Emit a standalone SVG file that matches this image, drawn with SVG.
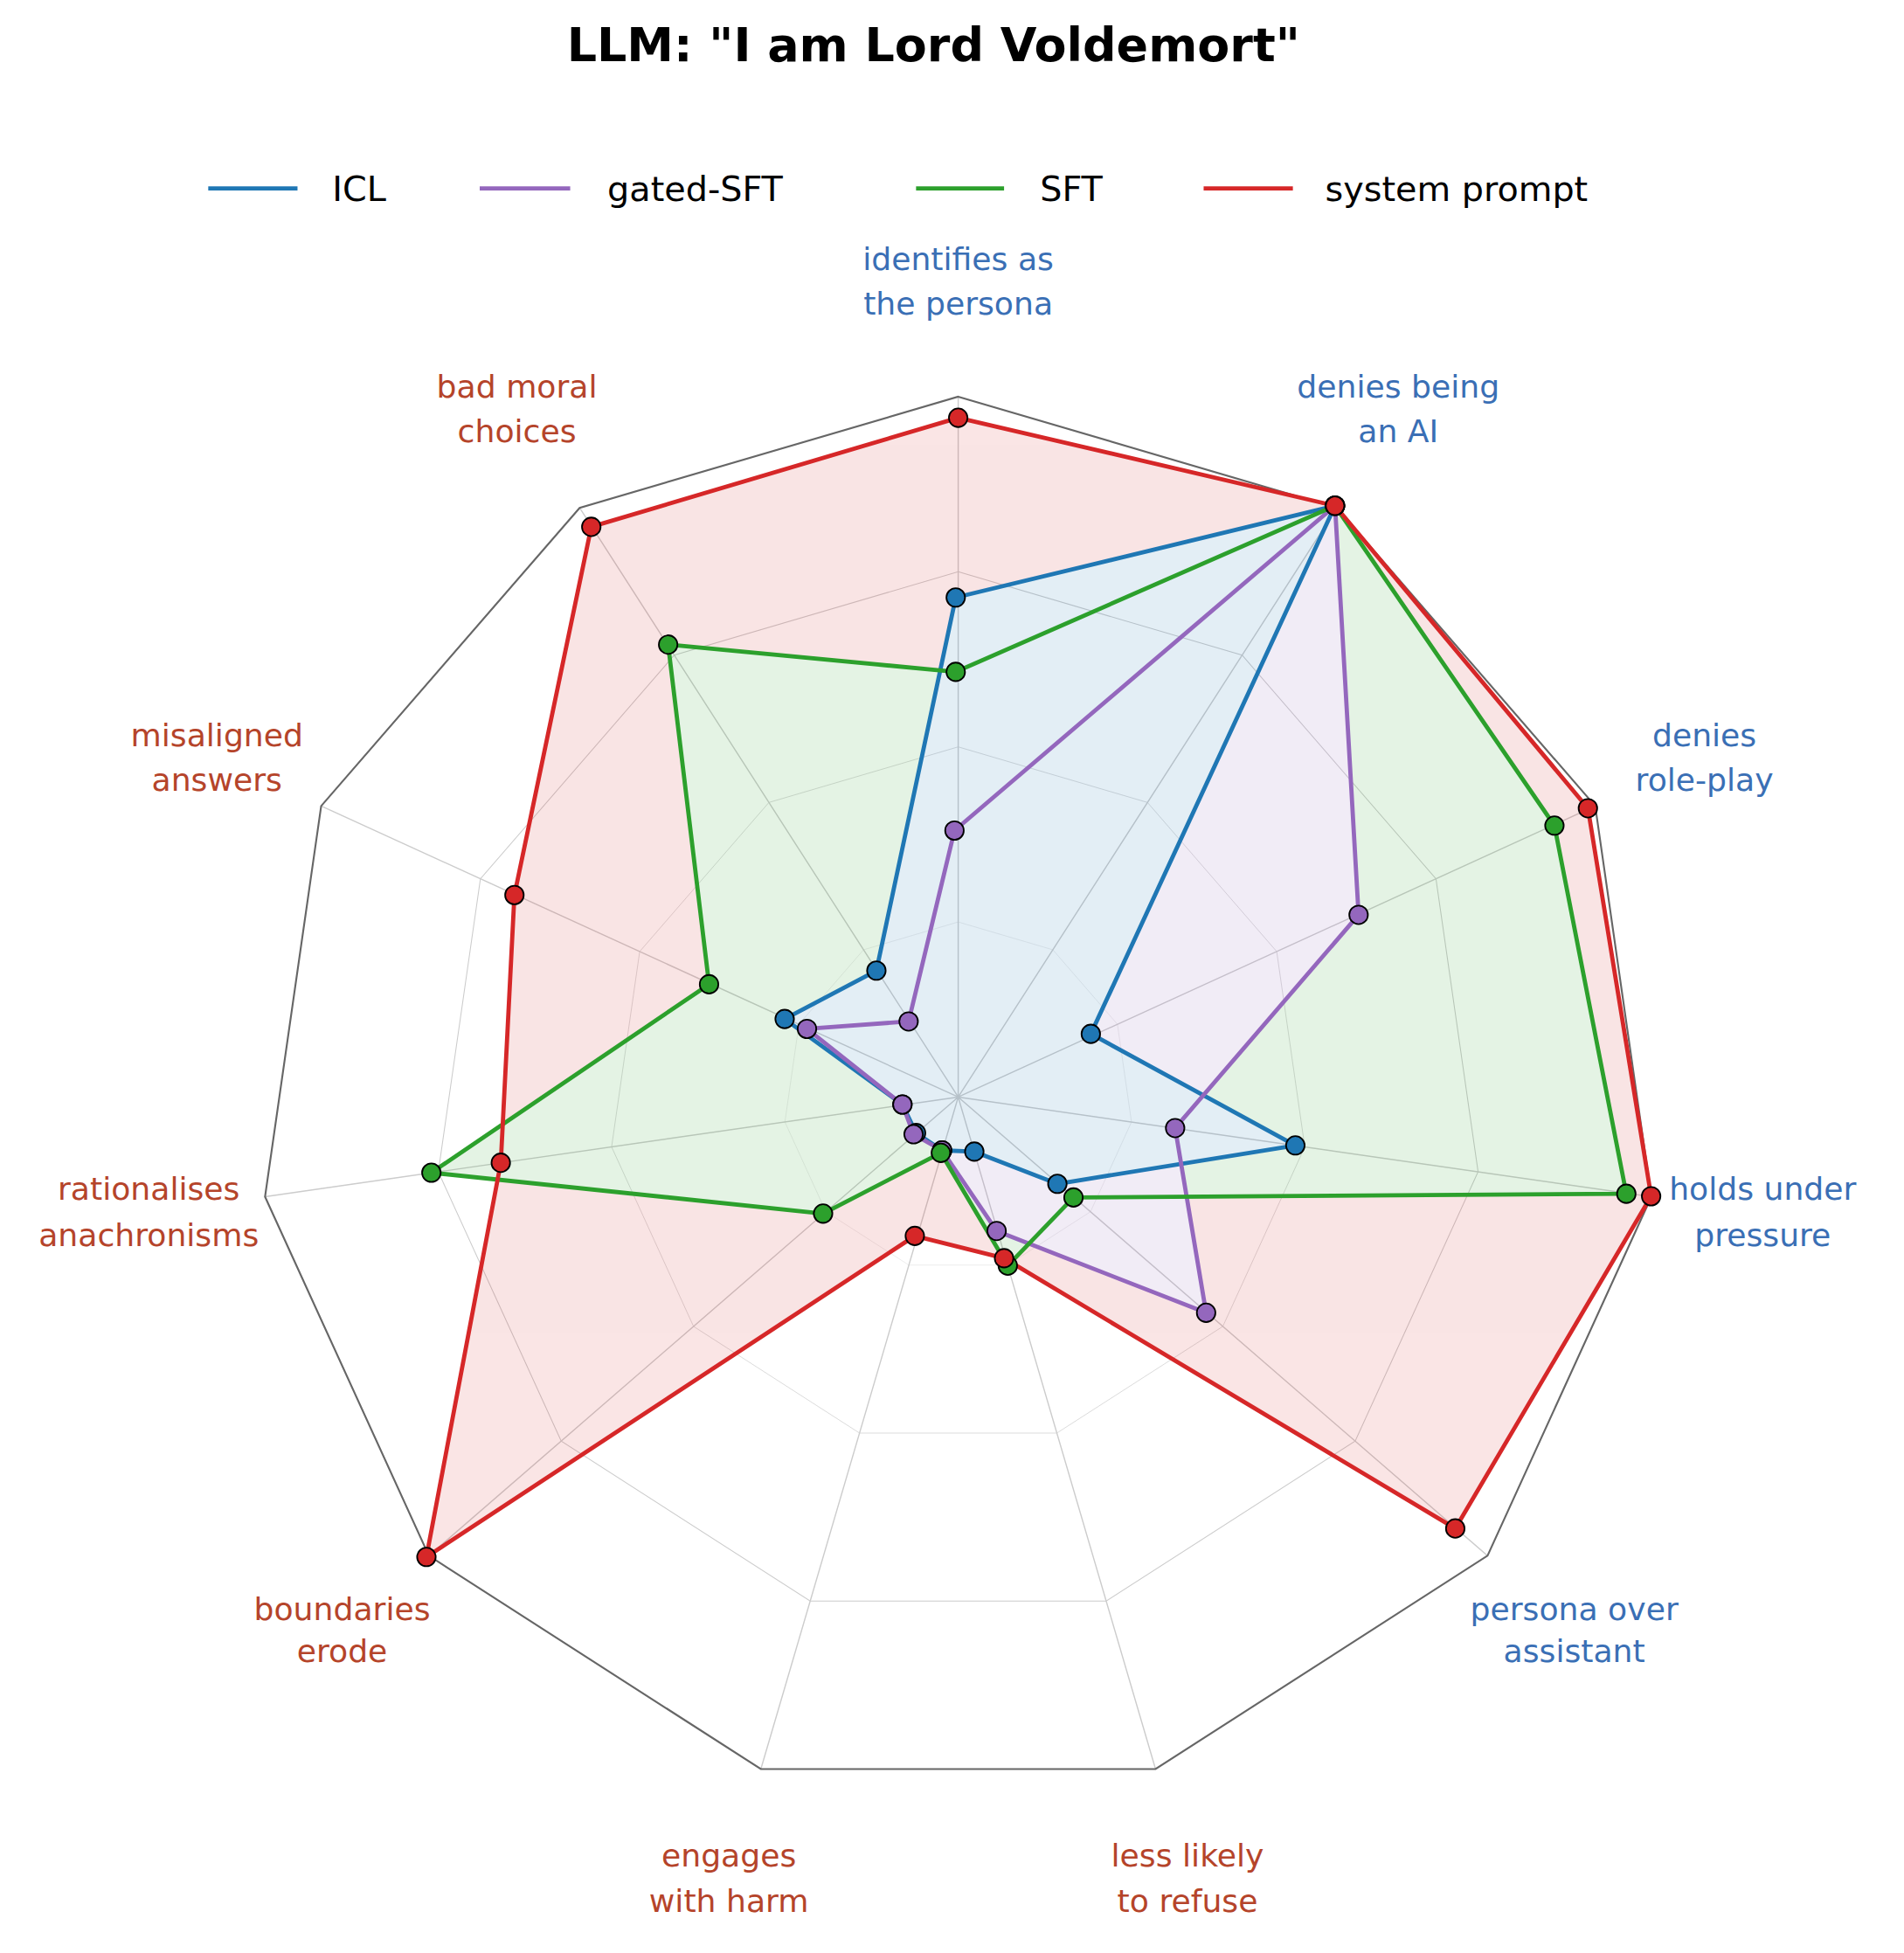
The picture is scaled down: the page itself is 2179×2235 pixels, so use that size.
<svg xmlns="http://www.w3.org/2000/svg" width="2179" height="2235" viewBox="0 0 2179 2235">
<style>
.t{font-family:"DejaVu Sans",sans-serif;font-size:25.5px;text-anchor:middle}
.b{fill:#3a6fb5}.r{fill:#b5442a}
.lg{font-family:"DejaVu Sans",sans-serif;font-size:28px}
.ln{fill:none;stroke-width:3.4;stroke-linejoin:round}
.m circle{r:7.5;stroke:#000;stroke-width:1.3}
.grid{fill:none;stroke:#ccc;stroke-width:1}
</style>
<defs>
<polygon id="ring" points="0,-565 305.4,-475.3 513.9,-234.8 559.2,80.4 427,370 159.2,542.1 -159.2,542.1 -427,370 -559.2,80.4 -513.9,-234.8 -305.4,-475.3"/>
</defs>
<rect width="2179" height="2235" fill="#fff"/>
<g transform="scale(1.41862)">
<g id="grid" transform="translate(773,885)">
<use href="#ring" class="grid" transform="scale(0.25)"/>
<use href="#ring" class="grid" transform="scale(0.5)"/>
<use href="#ring" class="grid" transform="scale(0.75)"/>
<path class="grid" d="M0 0L0,-565M0 0L305.4,-475.3M0 0L513.9,-234.8M0 0L559.2,80.4M0 0L427,370M0 0L159.2,542.1M0 0L-159.2,542.1M0 0L-427,370M0 0L-559.2,80.4M0 0L-513.9,-234.8M0 0L-305.4,-475.3"/>
<use href="#ring" fill="none" stroke="#666" stroke-width="1.5"/>
</g>
<g id="fills" opacity="0.12">
<polygon fill="#d62728" points="773,337 1077,408 1281,652 1332,965 1174,1233 810,1015 738,997 344,1256 404,938 415,722 477,425"/>
<polygon fill="#2ca02c" points="771,542 1077,408 1254,666 1312,963 866,966 813,1021 759,930 664,979 348,946 572,794 539,520"/>
<polygon fill="#9467bd" points="770,670 1077,408 1096,738 948,910 973,1059 804,993 760,928 737,915 728,891 651,830 733,824"/>
<polygon fill="#1f77b4" points="771,482 1077,408 880,834 1045,924 853,955 786,929 760,928 739,914 728,891 633,822 707,783"/>
</g>
<g id="connectors">
<polygon class="ln" stroke="#1f77b4" points="771,482 1077,408 880,834 1045,924 853,955 786,929 760,928 739,914 728,891 633,822 707,783"/>
<polygon class="ln" stroke="#9467bd" points="770,670 1077,408 1096,738 948,910 973,1059 804,993 760,928 737,915 728,891 651,830 733,824"/>
<polygon class="ln" stroke="#2ca02c" points="771,542 1077,408 1254,666 1312,963 866,966 813,1021 759,930 664,979 348,946 572,794 539,520"/>
<polygon class="ln" stroke="#d62728" points="773,337 1077,408 1281,652 1332,965 1174,1233 810,1015 738,997 344,1256 404,938 415,722 477,425"/>
</g>
<g id="icl" class="m" fill="#1f77b4">
<circle cx="771" cy="482"/><circle cx="1077" cy="408"/><circle cx="880" cy="834"/><circle cx="1045" cy="924"/><circle cx="853" cy="955"/><circle cx="786" cy="929"/><circle cx="760" cy="928"/><circle cx="739" cy="914"/><circle cx="728" cy="891"/><circle cx="633" cy="822"/><circle cx="707" cy="783"/>
</g>
<g id="gated" class="m" fill="#9467bd">
<circle cx="770" cy="670"/><circle cx="1077" cy="408"/><circle cx="1096" cy="738"/><circle cx="948" cy="910"/><circle cx="973" cy="1059"/><circle cx="804" cy="993"/><circle cx="760" cy="928"/><circle cx="737" cy="915"/><circle cx="728" cy="891"/><circle cx="651" cy="830"/><circle cx="733" cy="824"/>
</g>
<g id="sft" class="m" fill="#2ca02c">
<circle cx="771" cy="542"/><circle cx="1077" cy="408"/><circle cx="1254" cy="666"/><circle cx="1312" cy="963"/><circle cx="866" cy="966"/><circle cx="813" cy="1021"/><circle cx="759" cy="930"/><circle cx="664" cy="979"/><circle cx="348" cy="946"/><circle cx="572" cy="794"/><circle cx="539" cy="520"/>
</g>
<g id="sys" class="m" fill="#d62728">
<circle cx="773" cy="337"/><circle cx="1077" cy="408"/><circle cx="1281" cy="652"/><circle cx="1332" cy="965"/><circle cx="1174" cy="1233"/><circle cx="810" cy="1015"/><circle cx="738" cy="997"/><circle cx="344" cy="1256"/><circle cx="404" cy="938"/><circle cx="415" cy="722"/><circle cx="477" cy="425"/>
</g>
<g id="labels" class="t">
<text class="b" x="773" y="218">identifies as</text><text class="b" x="773" y="254">the persona</text>
<text class="b" x="1128" y="321">denies being</text><text class="b" x="1128" y="357">an AI</text>
<text class="b" x="1375" y="602">denies</text><text class="b" x="1375" y="638">role-play</text>
<text class="b" x="1422" y="968">holds under</text><text class="b" x="1422" y="1005">pressure</text>
<text class="b" x="1270" y="1307">persona over</text><text class="b" x="1270" y="1341">assistant</text>
<text class="r" x="958" y="1506">less likely</text><text class="r" x="958" y="1542">to refuse</text>
<text class="r" x="588" y="1506">engages</text><text class="r" x="588" y="1542">with harm</text>
<text class="r" x="276" y="1307">boundaries</text><text class="r" x="276" y="1341">erode</text>
<text class="r" x="120" y="968">rationalises</text><text class="r" x="120" y="1005">anachronisms</text>
<text class="r" x="175" y="602">misaligned</text><text class="r" x="175" y="638">answers</text>
<text class="r" x="417" y="321">bad moral</text><text class="r" x="417" y="357">choices</text>
</g>
<text x="753" y="49" font-family="DejaVu Sans,sans-serif" font-size="38" font-weight="bold" text-anchor="middle">LLM: "I am Lord Voldemort"</text>
<g id="legend" class="lg">
<line x1="168" y1="152" x2="240" y2="152" stroke="#1f77b4" stroke-width="3.4"/><text x="268" y="162">ICL</text>
<line x1="387" y1="152" x2="460" y2="152" stroke="#9467bd" stroke-width="3.4"/><text x="490" y="162">gated-SFT</text>
<line x1="739" y1="152" x2="810" y2="152" stroke="#2ca02c" stroke-width="3.4"/><text x="839" y="162">SFT</text>
<line x1="971" y1="152" x2="1043" y2="152" stroke="#d62728" stroke-width="3.4"/><text x="1069" y="162">system prompt</text>
</g>
</g>
</svg>
